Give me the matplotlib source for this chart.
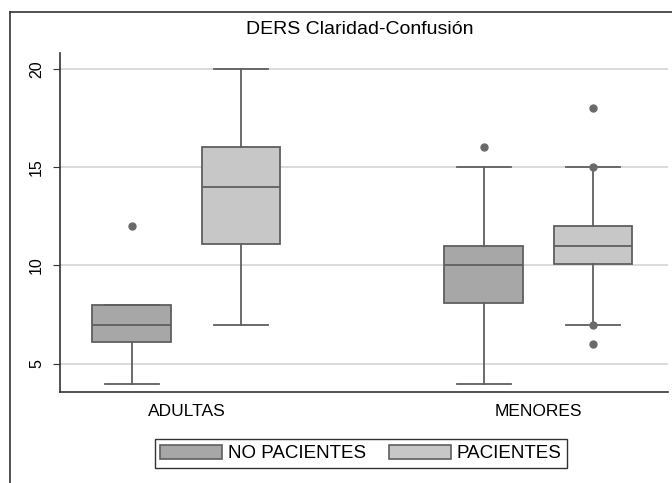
import matplotlib
matplotlib.use("Agg")
import matplotlib.pyplot as plt
from matplotlib.patches import Patch
from matplotlib.lines import Line2D

plt.rcParams['font.family'] = ['Liberation Sans', 'DejaVu Sans']

# data
groups = ["ADULTAS", "MENORES"]
series = ["NO PACIENTES", "PACIENTES"]
# per series, per group: whislo, q1, med, q3, whishi
no_pac_stats = [[4, 6.1, 7, 8, 8], [4, 8.1, 10, 11, 15]]
pac_stats = [[7, 11.1, 14, 16, 20], [7, 10.1, 11, 12, 15]]
no_pac_fliers = [[12], [16]]
pac_fliers = [[], [15, 18, 7, 6]]
yticks = [5, 10, 15, 20]

fills = ["#a7a7a7", "#c7c7c7"]
edge = "#5f5f5f"

fig = plt.figure(figsize=(6.72, 4.83), dpi=100)
ax = fig.add_axes([60 / 672, 1 - 392 / 483, 608 / 672, 339 / 483])

# outer frame (only left/top visible, the rest is cut off)
fig.add_artist(Line2D([10 / 672, 10 / 672], [0, 1 - 12 / 483], transform=fig.transFigure,
                      color="#333333", lw=1.2))
fig.add_artist(Line2D([10 / 672, 1], [1 - 12 / 483, 1 - 12 / 483], transform=fig.transFigure,
                      color="#333333", lw=1.2))

centers = [0, 1]
offset = 0.155
width = 0.224

def make_stats(stats, fliers):
    out = []
    for s, f in zip(stats, fliers):
        out.append(dict(whislo=s[0], q1=s[1], med=s[2], q3=s[3], whishi=s[4], fliers=f))
    return out

for k, (stats, fliers) in enumerate([(no_pac_stats, no_pac_fliers), (pac_stats, pac_fliers)]):
    pos = [c + (offset if k else -offset) for c in centers]
    ax.bxp(make_stats(stats, fliers), positions=pos, widths=width, patch_artist=True,
           boxprops=dict(facecolor=fills[k], edgecolor=edge, lw=1.3),
           medianprops=dict(color=edge, lw=1.3),
           whiskerprops=dict(color=edge, lw=1.3),
           capprops=dict(color=edge, lw=1.3),
           capwidths=0.153,
           flierprops=dict(marker="o", markersize=5, markerfacecolor="#6a6a6a",
                           markeredgecolor="#6a6a6a"),
           manage_ticks=False, zorder=3)

ax.set_xlim(-0.359, 1.368)
ax.set_ylim(3.57, 20.8)
ax.set_yticks(yticks)
ax.set_yticklabels([str(t) for t in yticks], rotation=90, va="center", fontsize=11.5)
ax.set_xticks(centers)
ax.set_xticklabels(groups, fontsize=12.5)
ax.tick_params(axis="x", length=0, pad=9)
ax.tick_params(axis="y", length=5, color="#333333", pad=6.5)
ax.grid(axis="y", color="#d4d4d4", lw=1.2)
ax.set_axisbelow(True)
for s in ["top", "right"]:
    ax.spines[s].set_visible(False)
for s in ["left", "bottom"]:
    ax.spines[s].set_color("#333333")
    ax.spines[s].set_linewidth(1.2)

fig.text(360 / 672, 1 - 29 / 483, "DERS Claridad-Confusión", ha="center", va="center", fontsize=14)

handles = [Patch(facecolor=fills[i], edgecolor=edge, lw=1.2) for i in range(2)]
leg = fig.legend(handles, series, loc="center", bbox_to_anchor=(361 / 672, 1 - 453.5 / 483),
                 ncol=2, fontsize=13.5, frameon=True, fancybox=False, handlelength=3.3,
                 handleheight=0.85, columnspacing=1.2, handletextpad=0.32, borderpad=0.3)
leg.get_frame().set_edgecolor("black")
leg.get_frame().set_linewidth(1.0)

fig.savefig("out.png", dpi=100)
